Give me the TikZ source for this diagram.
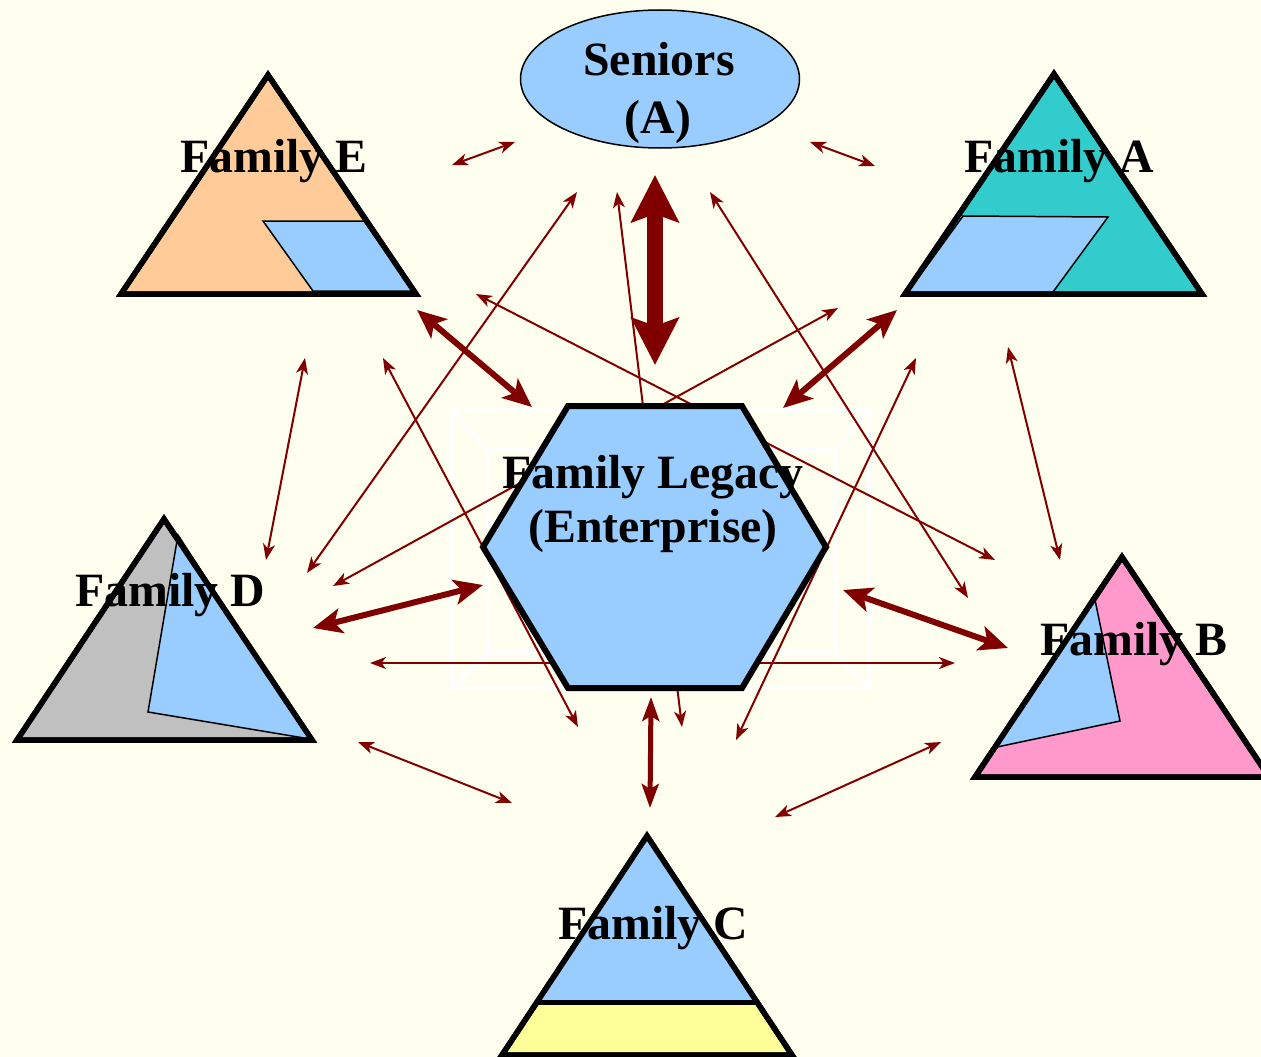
\documentclass[tikz,border=0pt]{standalone}
\usepackage{fontspec}
\setmainfont{Liberation Serif}
\usetikzlibrary{arrows.meta}
\definecolor{bg}{HTML}{FFFFF0}
\definecolor{lblue}{HTML}{99CCFF}
\definecolor{peach}{HTML}{FFCC99}
\definecolor{teal2}{HTML}{33CCCC}
\definecolor{grey2}{HTML}{C0C0C0}
\definecolor{pink2}{HTML}{FF99CC}
\definecolor{yell}{HTML}{FFFF99}
\definecolor{dred}{HTML}{800000}
\begin{document}
\begin{tikzpicture}[x=1pt,y=-1pt,
  thinarr/.style={draw=dred, line width=2pt,
    {Stealth[length=16pt,width=12pt,inset=4.5pt]}-{Stealth[length=16pt,width=12pt,inset=4.5pt]}},
  thickarr/.style={draw=dred, line width=6pt,
    {Stealth[length=29pt,width=25pt,inset=7pt]}-{Stealth[length=29pt,width=25pt,inset=7pt]}},
  midarr/.style={draw=dred, line width=5pt,
    {Stealth[length=24pt,width=17pt,inset=5pt]}-{Stealth[length=24pt,width=17pt,inset=5pt]}},
  hugearr/.style={draw=dred, line width=16pt,
    {Stealth[length=47pt,width=47pt,inset=8pt]}-{Stealth[length=47pt,width=47pt,inset=8pt]}},
  tri/.style={draw=black, line width=5.5pt, line join=miter},
  inner/.style={draw=black, line width=1.5pt, fill=lblue, line join=miter},
  lbl/.style={font=\bfseries\fontsize{47.8}{55}\selectfont, inner sep=0pt, anchor=base, text=black},
  frame/.style={draw=white, line width=4pt}
]
\fill[bg] (0,0) rectangle (1261,1057);
\useasboundingbox (0,0) rectangle (1261,1057);
\clip (0,0) rectangle (1261,1057);

% faint white frame behind the hexagon
\draw[frame] (452,410) rectangle (869,688);
\draw[frame] (488,450) rectangle (835,652);
\draw[frame] (452,410) -- (488,450) (869,410) -- (835,450)
             (452,688) -- (488,652) (869,688) -- (835,652);

% arrow end points
\coordinate (a1) at (452,165);  \coordinate (b1) at (515,142);
\coordinate (a2) at (810,142);  \coordinate (b2) at (875,166);
\coordinate (a3) at (305,358);  \coordinate (b3) at (266,560);
\coordinate (a4) at (1008,347); \coordinate (b4) at (1060,560);
\coordinate (a5) at (358,742);  \coordinate (b5) at (512,803);
\coordinate (a6) at (941,742);  \coordinate (b6) at (775,817);
\coordinate (a7) at (370,663);  \coordinate (b7) at (955,663);
\coordinate (a8) at (307,573);  \coordinate (b8) at (577,192);
\coordinate (a9) at (333,586);  \coordinate (b9) at (838,308);
\coordinate (a10) at (476,294); \coordinate (b10) at (995,560);
\coordinate (a11) at (383,358); \coordinate (b11) at (578,727);
\coordinate (a12) at (617,192); \coordinate (b12) at (682,727);
\coordinate (a13) at (710,192); \coordinate (b13) at (968,598);
\coordinate (a14) at (916,358); \coordinate (b14) at (736,740);
\coordinate (t1a) at (417,310); \coordinate (t1b) at (532,407);
\coordinate (t2a) at (897,310); \coordinate (t2b) at (783,408);
\coordinate (t3a) at (313,628); \coordinate (t3b) at (483,585);
\coordinate (t4a) at (843,590); \coordinate (t4b) at (1008,648);
\coordinate (m1a) at (651,697); \coordinate (m1b) at (650,808);
\coordinate (h1a) at (655,175); \coordinate (h1b) at (655,365);

\foreach \i in {1,...,14} {\draw[thinarr] (a\i) -- (b\i);}
\draw[thickarr] (t1a) -- (t1b);
\draw[thickarr] (t2a) -- (t2b);
\draw[thickarr] (t3a) -- (t3b);
\draw[thickarr] (t4a) -- (t4b);
\draw[midarr] (m1a) -- (m1b);
\draw[hugearr] (h1a) -- (h1b);

% hexagon (Family Legacy)
\draw[fill=lblue, line width=6pt, line join=miter]
  (568,406) -- (742,406) -- (826,547) -- (742,688) -- (568,688) -- (483,547) -- cycle;

% Seniors ellipse
\draw[fill=lblue, line width=1.5pt] (660,79) ellipse [x radius=139.5, y radius=69];

% Family E
\draw[tri, fill=peach] (268,75) -- (121,294) -- (416,294) -- cycle;
\draw[inner] (263,221) -- (364,221) -- (413,291) -- (313,291) -- cycle;
\draw[tri, fill=none] (268,75) -- (121,294) -- (416,294) -- cycle;

% Family A
\draw[tri, fill=teal2] (1054,74) -- (905,294) -- (1202,294) -- cycle;
\draw[inner] (963,216) -- (1108,217) -- (1053,292) -- (908,292) -- cycle;
\draw[tri, fill=none] (1054,74) -- (905,294) -- (1202,294) -- cycle;

% Family D
\draw[tri, fill=grey2] (164,519) -- (17,740) -- (312,740) -- cycle;
\draw[inner] (178,535) -- (310,739) -- (148,712) -- cycle;
\draw[tri, fill=none] (164,519) -- (17,740) -- (312,740) -- cycle;

% Family B
\draw[tri, fill=pink2] (1122,557) -- (975,777) -- (1269,777) -- cycle;
\draw[inner] (1094,595) -- (1120,721) -- (997,747) -- cycle;
\draw[tri, fill=none] (1122,557) -- (975,777) -- (1269,777) -- cycle;

% Family C
\draw[tri, fill=yell] (647,836) -- (502,1055) -- (792,1055) -- cycle;
\fill[lblue] (647,836) -- (536,1002) -- (758,1002) -- cycle;
\draw[tri, fill=none] (647,836) -- (502,1055) -- (792,1055) -- cycle;
\draw[line width=5pt] (536,1002) -- (758,1002);

% labels
\node[lbl] (sen1) at (659,76) {Seniors};
\node[lbl] (sen2) at (658,133) {(A)};
\node[lbl] (leg1) at (653,488) {Family Legacy};
\node[lbl] (leg2) at (653,542) {(Enterprise)};
\node[lbl] (famE) at (274,172) {Family E};
\node[lbl] (famA) at (1059,172) {Family A};
\node[lbl] (famD) at (170,606) {Family D};
\node[lbl] (famB) at (1134,655) {Family B};
\node[lbl] (famC) at (653,939) {Family C};
\end{tikzpicture}
\end{document}
